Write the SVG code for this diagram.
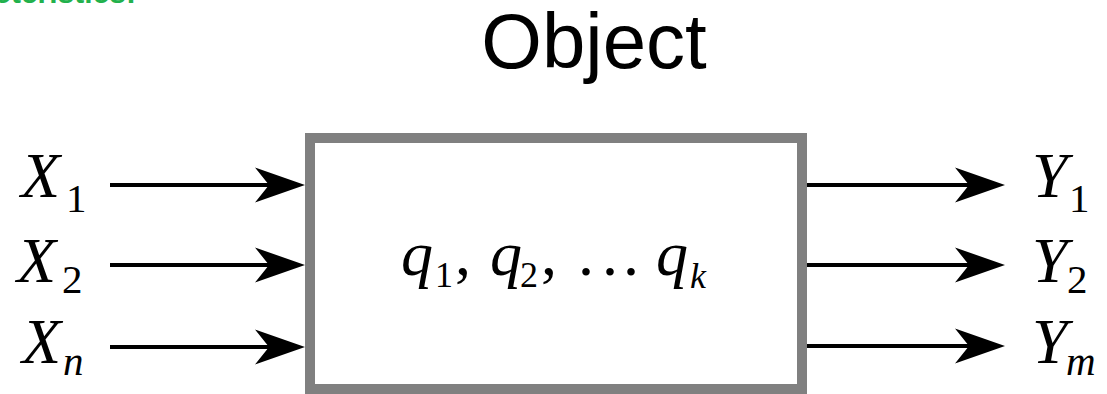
<svg xmlns="http://www.w3.org/2000/svg" width="1107" height="394" viewBox="0 0 1107 394">
<style>
.m{font-family:'Liberation Serif','Times New Roman',serif;fill:#000}
.i{font-style:italic}
.lbl{font-size:64px}
.sub{font-size:41px}
.q{font-size:64px}
.qs{font-size:36px}
.qk{font-size:36px}
.title{font-family:'Liberation Sans',Arial,sans-serif;font-size:78px;fill:#000}
.hdr{font-family:'Liberation Sans',Arial,sans-serif;font-size:30px;font-weight:bold;fill:#22b14c}
.conn{stroke:#000;stroke-width:4;fill:none;marker-end:url(#ah)}
.box{fill:#fff;stroke:#808080;stroke-width:10}
</style>
<defs>
<marker id="ah" markerUnits="userSpaceOnUse" markerWidth="52" markerHeight="36" refX="36" refY="17.5" orient="auto" overflow="visible">
<path d="M0,0 L50,17.5 L0,35 L14,17.5 Z" fill="#000"/>
</marker>
</defs>
<rect width="1107" height="394" fill="#fff"/>
<text class="hdr" x="136" y="3" text-anchor="end">Characteristics:</text>
<g id="title"><text class="title" x="594" y="68" text-anchor="middle">Object</text></g>
<g id="object">
<rect class="box" x="310" y="138" width="492" height="251"/>
<text class="m q"><tspan class="i" x="401" y="275">q</tspan><tspan class="qs" x="435" y="287">1</tspan><tspan x="455" y="275">,</tspan><tspan class="i" x="490" y="275">q</tspan><tspan class="qs" x="520" y="287">2</tspan><tspan x="541" y="275">,</tspan><tspan x="578" y="275">.</tspan><tspan x="602" y="275">.</tspan><tspan x="623" y="275">.</tspan><tspan class="i" x="656" y="275">q</tspan><tspan class="qk i" x="690" y="288">k</tspan></text>
</g>
<g id="inputs">
<text class="m lbl" x="21" y="197"><tspan class="i">X</tspan><tspan class="sub" x="66" y="212">1</tspan></text>
<text class="m lbl" x="17" y="282"><tspan class="i">X</tspan><tspan class="sub" x="62" y="293">2</tspan></text>
<text class="m lbl" x="22" y="363"><tspan class="i">X</tspan><tspan class="sub i" x="63" y="375">n</tspan></text>
</g>
<g id="outputs">
<text class="m lbl" x="1032" y="197"><tspan class="i">Y</tspan><tspan class="sub" x="1069" y="212">1</tspan></text>
<text class="m lbl" x="1032" y="282"><tspan class="i">Y</tspan><tspan class="sub" x="1067" y="293">2</tspan></text>
<text class="m lbl" x="1032" y="363"><tspan class="i">Y</tspan><tspan class="sub i" x="1066" y="375">m</tspan></text>
</g>
<g id="connectors">
<path class="conn" d="M110,185 H291"/>
<path class="conn" d="M110,265 H291"/>
<path class="conn" d="M110,347 H291"/>
<path class="conn" d="M807,185 H991"/>
<path class="conn" d="M807,265 H991"/>
<path class="conn" d="M807,346 H991"/>
</g>
</svg>
